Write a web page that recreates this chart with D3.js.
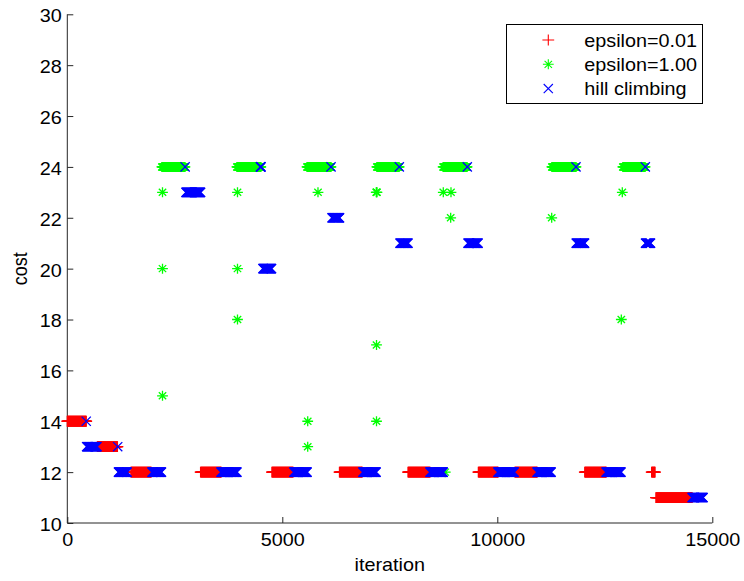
<!DOCTYPE html>
<html>
<head>
<meta charset="utf-8">
<script src="https://cdn.jsdelivr.net/npm/d3@7"></script>
<style>
  html, body { margin: 0; padding: 0; background: #fff; }
  svg { display: block; }
  text { font-family: Arial, "Liberation Sans", Helvetica, sans-serif; fill: #000; }
</style>
</head>
<body>
<svg id="chart" width="744" height="581"></svg>
<script>
// ---------- data ----------
const xTicks = [0, 5000, 10000, 15000];
const yTicks = [10, 12, 14, 16, 18, 20, 22, 24, 26, 28, 30];
const xLabel = "iteration";
const yLabel = "cost";
const seriesNames = ["epsilon=0.01", "epsilon=1.00", "hill climbing"];
const seriesColors = ["#ff0000", "#00ff00", "#0000ff"];

// Sampling step of the recorded iterations (dense runs of markers)
const iterStep = 10;

// Runs of constant cost: [first iteration, last iteration, cost]
const eps001Runs = [
  [0, 440, 14], [700, 1165, 13], [1480, 1950, 12], [3100, 3575, 12],
  [4760, 5250, 12], [6330, 6855, 12], [7925, 8435, 12], [9560, 10015, 12],
  [10410, 10925, 12], [12035, 12530, 12], [13590, 13665, 12], [13690, 14530, 11]
];
const eps100Runs = [
  [2200, 2735, 24], [2214, 2214, 23], [2214, 2214, 20], [2214, 2214, 15],
  [3945, 4500, 24], [3958, 3958, 23], [3958, 3958, 20], [3958, 3958, 18],
  [5591, 5591, 14], [5591, 5591, 13],
  [5575, 6130, 24], [5830, 5830, 23],
  [7200, 7715, 24], [7185, 7200, 23], [7191, 7191, 17], [7191, 7191, 14],
  [8740, 9295, 24], [8744, 8744, 23], [8923, 8923, 23], [8916, 8916, 22], [8790, 8790, 12],
  [11270, 11830, 24], [11265, 11265, 22],
  [12920, 13435, 24], [12907, 12907, 23], [12884, 12884, 18]
];
const hillRuns = [
  [440, 440, 14], [450, 690, 13], [1172, 1172, 13], [1190, 1390, 12],
  [1970, 2190, 12], [2740, 2740, 24], [2760, 3100, 23], [3575, 3945, 12],
  [4490, 4505, 24], [4550, 4750, 20], [5270, 5575, 12], [6133, 6133, 24],
  [6156, 6330, 22], [6875, 7180, 12], [7721, 7721, 24], [7737, 7923, 21],
  [8435, 8740, 12], [9302, 9302, 24], [9319, 9551, 21], [10015, 10390, 12],
  [10925, 11250, 12], [11830, 11830, 24], [11835, 12028, 21], [12530, 12875, 12],
  [13442, 13442, 24], [13447, 13563, 21], [14530, 14785, 11]
];

// ---------- layout ----------
const svg = d3.select("#chart");
const FS = 18;          // font size
const SX = 1.1;         // horizontal stretch of the original picture
const x = d3.scaleLinear().domain([0, 15000]).range([67.3, 712.3]);
const y = d3.scaleLinear().domain([10, 30]).range([523, 14.3]);

function expand(runs) {
  const pts = [];
  runs.forEach(([a, b, c]) => {
    d3.range(a, b + 1e-9, iterStep).forEach(it => pts.push([it, c]));
    if ((b - a) % iterStep !== 0) pts.push([b, c]);
  });
  return pts;
}

// marker shapes
const plusPath = (() => { const w = 5.9, h = 5.4; return `M${-w},0H${w}M0,${-h}V${h}`; })();
const crossPath = (() => { const w = 4.6, h = 4.6; return `M${-w},${-h}L${w},${h}M${-w},${h}L${w},${-h}`; })();
const starPath = (() => {
  const w = 5.4, h = 5.0, d = 3.7, dy = 3.5;
  return `M${-w},0H${w}M0,${-h}V${h}M${-d},${-dy}L${d},${dy}M${-d},${dy}L${d},${-dy}`;
})();
const markerPaths = [plusPath, starPath, crossPath];
const seriesRuns = [eps001Runs, eps100Runs, hillRuns];

// ---------- axes ----------
const yAxis = d3.axisLeft(y).tickValues(yTicks).tickSize(-6).tickPadding(5.6).tickFormat(d3.format("d"));
const xAxis = d3.axisBottom(x).tickValues(xTicks).tickSize(-6).tickPadding(10.5).tickFormat(d3.format("d"));

const gx = svg.append("g").attr("transform", `translate(0,${y.range()[0]})`).call(xAxis);
const gy = svg.append("g").attr("transform", `translate(${x.range()[0]},0)`).call(yAxis);

[gx, gy].forEach(g => {
  g.select(".domain").attr("stroke", "#262626").attr("stroke-width", 1);
  g.selectAll(".tick line").attr("stroke", "#262626").attr("stroke-width", 1);
  g.selectAll(".tick text")
    .attr("font-size", FS).attr("font-family", null).attr("fill", "#000")
    .each(function () {
      const t = d3.select(this);
      const tx = +t.attr("x") || 0, ty = +t.attr("y") || 0;
      t.attr("x", null).attr("y", null).attr("transform", `translate(${tx},${ty}) scale(${SX},1)`);
    });
});
gy.selectAll(".tick text").attr("dy", "0.41em");
gx.selectAll(".tick text").attr("dy", "0.71em");
gx.select(".domain").attr("d", `M${x.range()[0]},0H${x.range()[1]}`);
gy.select(".domain").attr("d", `M0,${y.range()[1]}V${y.range()[0]}`);

// axis titles
svg.append("text")
  .attr("transform", `translate(${(x.range()[0] + x.range()[1]) / 2},571) scale(${SX},1)`)
  .attr("text-anchor", "middle").attr("font-size", FS).text(xLabel);
svg.append("text")
  .attr("transform", `translate(26.5,${(y.range()[0] + y.range()[1]) / 2}) scale(${SX},1) rotate(-90)`)
  .attr("text-anchor", "middle").attr("font-size", FS).text(yLabel);

// ---------- markers ----------
const plot = svg.append("g");
seriesRuns.forEach((runs, i) => {
  plot.append("g")
    .selectAll("path")
    .data(expand(runs))
    .join("path")
    .attr("d", markerPaths[i])
    .attr("transform", d => `translate(${x(d[0])},${y(d[1])})`)
    .attr("fill", "none")
    .attr("stroke", seriesColors[i])
    .attr("stroke-width", 1.3);
});

// ---------- legend ----------
const lg = svg.append("g");
lg.append("rect")
  .attr("x", 506.5).attr("y", 24.5).attr("width", 196).attr("height", 79)
  .attr("fill", "#fff").attr("stroke", "#000").attr("stroke-width", 1);
const legendY = [40, 64.3, 88.6];
seriesNames.forEach((name, i) => {
  lg.append("path").attr("d", markerPaths[i])
    .attr("transform", `translate(548.3,${legendY[i]})`)
    .attr("fill", "none").attr("stroke", seriesColors[i]).attr("stroke-width", 1.1);
  lg.append("text")
    .attr("transform", `translate(584.3,${legendY[i] + 6.6}) scale(${SX},1)`)
    .attr("font-size", FS).text(name);
});
</script>
</body>
</html>
